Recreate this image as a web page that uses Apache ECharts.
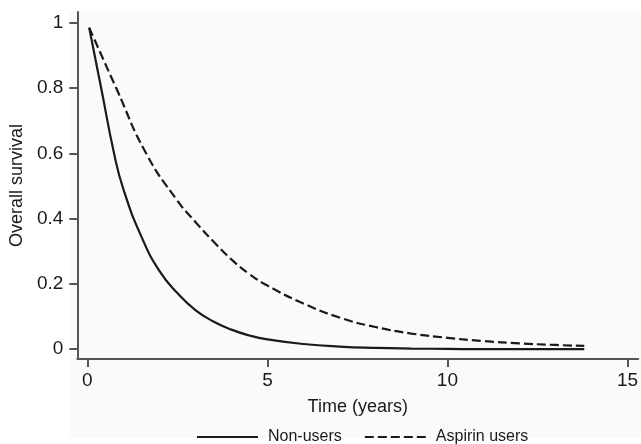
<!DOCTYPE html>
<html>

<head>
  <meta charset="UTF-8">
  <title>Overall survival</title>
</head>

<body style="margin:0; background:#fff;">
  <div id="main" style="width: 641px; height: 444px;"></div>
  <script src="https://cdn.jsdelivr.net/npm/echarts@6.0.0/dist/echarts.min.js"></script>
  <script>
    // Survival curves: [time in years, survival]
    const nonUsers = [
      [0.05, 0.985], [0.4, 0.79], [0.74, 0.6], [1, 0.49], [1.5, 0.345],
      [2, 0.24], [2.5, 0.172], [3, 0.12], [3.5, 0.085], [4, 0.06], [4.5, 0.042],
      [5, 0.03], [6, 0.016], [7, 0.008], [8, 0.004], [9, 0.002], [10, 0.001],
      [11, 0], [12, 0], [13, 0], [13.8, 0]
    ];
    const aspirinUsers = [
      [0.05, 0.985], [0.8, 0.8], [1.63, 0.6], [2.5, 0.455], [3, 0.39],
      [3.5, 0.33], [4, 0.275], [4.5, 0.23], [5, 0.195],
      [6, 0.14], [7, 0.097], [8, 0.068], [9, 0.048], [10, 0.035], [11, 0.025],
      [12, 0.018], [13, 0.013], [13.8, 0.01]
    ];
    const xTicks = [0, 5, 10, 15];
    const yTicks = [0, 0.2, 0.4, 0.6, 0.8, 1];

    const font = 'Liberation Sans, Arial, sans-serif';
    const axisColor = '#555';

    const chart = echarts.init(document.getElementById('main'));
    chart.setOption({
      animation: false,
      textStyle: { fontFamily: font },
      graphic: [{
        type: 'rect',
        z: -10,
        shape: { x: 69, y: 11, width: 572, height: 427 },
        style: { fill: '#fafafa' }
      }],
      grid: { left: 76, right: 0, top: 12, bottom: 85 },
      xAxis: {
        type: 'value',
        min: -0.28,
        max: 15.3,
        name: 'Time (years)',
        nameLocation: 'middle',
        nameGap: 39,
        nameTextStyle: { fontSize: 18, color: '#1a1a1a' },
        axisLine: { onZero: false, lineStyle: { color: axisColor, width: 2 } },
        axisTick: { customValues: xTicks, length: 8, lineStyle: { color: axisColor, width: 2 } },
        axisLabel: { customValues: xTicks, fontSize: 19, color: '#1a1a1a', margin: 12 },
        splitLine: { show: false }
      },
      yAxis: {
        type: 'value',
        min: -0.03,
        max: 1.033,
        name: 'Overall survival',
        nameLocation: 'middle',
        nameGap: 47,
        nameTextStyle: { fontSize: 18, color: '#1a1a1a' },
        axisLine: { show: true, onZero: false, lineStyle: { color: axisColor, width: 2 } },
        axisTick: { show: true, customValues: yTicks, length: 8, lineStyle: { color: axisColor, width: 2 } },
        axisLabel: { customValues: yTicks, fontSize: 19, color: '#1a1a1a', margin: 14 },
        splitLine: { show: false }
      },
      legend: {
        left: 191,
        top: 424,
        itemWidth: 61,
        itemHeight: 14,
        itemGap: 22,
        itemStyle: { opacity: 0 },
        textStyle: { fontSize: 16, color: '#1a1a1a', padding: [0, 0, 0, 5] },
        data: ['Non-users', 'Aspirin users']
      },
      series: [{
        name: 'Non-users',
        type: 'line',
        data: nonUsers,
        smooth: true,
        symbol: 'none',
        lineStyle: { color: '#1a1a1a', width: 2.2 },
        itemStyle: { color: '#1a1a1a' }
      }, {
        name: 'Aspirin users',
        type: 'line',
        data: aspirinUsers,
        smooth: true,
        symbol: 'none',
        lineStyle: { color: '#1a1a1a', width: 2.2, type: [9, 4] },
        itemStyle: { color: '#1a1a1a' }
      }]
    });
  </script>
</body>

</html>
